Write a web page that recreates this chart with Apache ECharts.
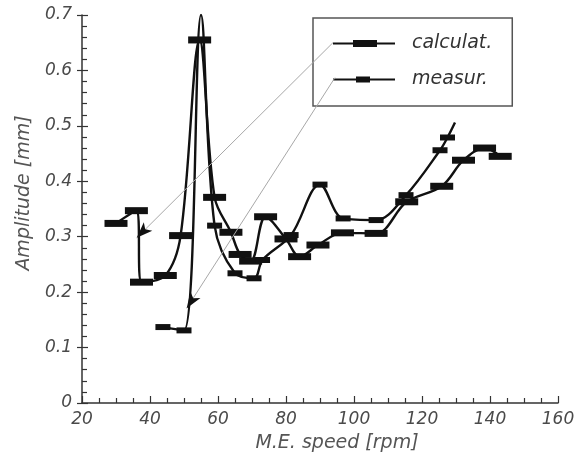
<!DOCTYPE html>
<html>
<head>
<meta charset="utf-8">
<script src="https://cdn.jsdelivr.net/npm/echarts@6/dist/echarts.min.js"></script>
<style>
    html, body { margin: 0; padding: 0; background: #fff; }
    #amplitudeChart { width: 579px; height: 459px; }
</style>
</head>
<body>
<div id="amplitudeChart"></div>
<script type="text/javascript">
    // ---- data ----
    var calcSpeed = [30, 36, 37.5, 44.5, 49, 54.6, 59, 63.8, 66.5, 69.6, 74, 80, 84, 89.4, 96.6, 106.5, 115.5, 125.8, 132.2, 138.4, 143];
    var calcAmp = [0.324, 0.347, 0.218, 0.230, 0.302, 0.655, 0.371, 0.308, 0.268, 0.256, 0.336, 0.296, 0.264, 0.285, 0.307, 0.306, 0.363, 0.391, 0.438, 0.460, 0.445];

    var measSpeed = [43.8, 50, 55, 59, 65, 70.6, 73.1, 81.5, 90, 96.8, 106.5, 115.3, 125.3, 127.5, 129.7];
    var measAmp = [0.137, 0.131, 0.70, 0.320, 0.234, 0.225, 0.258, 0.303, 0.394, 0.333, 0.330, 0.375, 0.456, 0.479, 0.506];
    // points of the measured curve drawn without a marker (apex, end of the line)
    var measUnmarked = [2, 14];

    var xTicks = [20, 40, 60, 80, 100, 120, 140, 160];
    var yTicks = [0, 0.1, 0.2, 0.3, 0.4, 0.5, 0.6, 0.7];

    // leader lines from the legend down to the curves (data coords), arrow tip at the end
    var calcPointer = [[93.8, 0.650], [36.1, 0.298]];
    var measPointer = [[94.4, 0.587], [50.8, 0.171]];

    var chart = echarts.init(document.getElementById('amplitudeChart'));

    function pairs(xs, ys) {
        var out = [];
        for (var i = 0; i < xs.length; i++) {
            out.push([xs[i], ys[i]]);
        }
        return out;
    }

    function $extend(base, extra) {
        var o = {};
        for (var k in base) o[k] = base[k];
        for (var j in extra) o[j] = extra[j];
        return o;
    }

    // gray leader line + black arrow head (arrow symbol is anchored at its tip)
    function pointer(coords, rotate) {
        return {
            markLine: {
                silent: true,
                symbol: ['none', 'none'],
                label: {show: false},
                lineStyle: {color: '#a8a8a8', width: 1, type: 'solid'},
                emphasis: {disabled: true},
                data: [[{coord: coords[0]}, {coord: coords[1]}]]
            },
            markPoint: {
                silent: true,
                symbol: 'arrow',
                symbolSize: [9, 16],
                symbolRotate: rotate,
                itemStyle: {color: '#111'},
                label: {show: false},
                data: [{coord: coords[1]}]
            }
        };
    }

    var measData = pairs(measSpeed, measAmp).map(function (p, i) {
        if (measUnmarked.indexOf(i) >= 0) {
            return {value: p, symbol: 'none'};
        }
        return p;
    });

    var axisColor = '#333';
    var labelFont = {color: '#4a4a4a', fontSize: 17, fontStyle: 'italic', fontFamily: 'DejaVu Sans'};
    var nameFont = {color: '#555', fontSize: 19, fontStyle: 'italic', fontFamily: 'DejaVu Sans'};

    var calcPtr = pointer(calcPointer, 135);
    var measPtr = pointer(measPointer, 147);

    var option = {
        animation: false,
        backgroundColor: '#fff',
        grid: {left: 82, right: 21, top: 15, bottom: 56},
        legend: {
            orient: 'vertical',
            left: 313,
            top: 18,
            padding: [16, 20, 17, 20],
            itemGap: 17,
            itemWidth: 62,
            itemHeight: 7,
            borderColor: '#555',
            borderWidth: 1.5,
            selectedMode: false,
            textStyle: {
                color: '#333', fontSize: 19, fontStyle: 'italic', fontFamily: 'DejaVu Sans',
                padding: [0, 0, 0, 12]
            },
            data: [
                {name: 'calculat.', icon: 'path://M0,2.6H62V4.4H0Z M20,0H44V7H20Z'},
                {name: 'measur.', icon: 'path://M0,2.6H62V4.4H0Z M23,0.5H37V6.5H23Z'}
            ]
        },
        xAxis: {
            type: 'value',
            min: xTicks[0],
            max: xTicks[xTicks.length - 1],
            interval: 20,
            name: 'M.E. speed [rpm]',
            nameLocation: 'middle',
            nameGap: 31,
            nameTextStyle: $extend(nameFont, {padding: [0, 0, 0, 34]}),
            axisLine: {show: true, lineStyle: {color: axisColor, width: 1.5}},
            axisTick: {show: true, inside: true, length: 7, lineStyle: {color: axisColor, width: 1.2}},
            minorTick: {show: true, splitNumber: 4, length: 5, lineStyle: {color: axisColor, width: 1.2}},
            axisLabel: $extend(labelFont, {margin: 8}),
            splitLine: {show: false}
        },
        yAxis: [{
            type: 'value',
            min: yTicks[0],
            max: yTicks[yTicks.length - 1],
            interval: 0.1,
            position: 'left',
            name: 'Amplitude [mm]',
            nameLocation: 'middle',
            nameGap: 48,
            nameTextStyle: $extend(nameFont, {padding: [0, 0, 0, 32]}),
            axisLine: {show: true, lineStyle: {color: axisColor, width: 1.5}},
            axisTick: {show: true, inside: true, length: 6, lineStyle: {color: axisColor, width: 1.2}},
            minorTick: {show: true, splitNumber: 5, length: 5, lineStyle: {color: axisColor, width: 1.2}},
            axisLabel: $extend(labelFont, {margin: 10}),
            splitLine: {show: false}
        }, {
            // outer half of the major ticks
            type: 'value',
            min: yTicks[0],
            max: yTicks[yTicks.length - 1],
            interval: 0.1,
            position: 'left',
            axisLine: {show: false},
            axisTick: {show: true, inside: false, length: 5, lineStyle: {color: axisColor, width: 1.2}},
            axisLabel: {show: false},
            splitLine: {show: false}
        }],
        series: [
            {
                name: 'calculat.',
                type: 'line',
                smooth: 0.35,
                data: pairs(calcSpeed, calcAmp),
                symbol: 'rect',
                symbolSize: [23, 7],
                showAllSymbol: true,
                itemStyle: {color: '#111'},
                lineStyle: {color: '#111', width: 2.4},
                emphasis: {disabled: true},
                z: 3,
                markLine: calcPtr.markLine,
                markPoint: calcPtr.markPoint
            },
            {
                name: 'measur.',
                type: 'line',
                smooth: 0.35,
                data: measData,
                symbol: 'rect',
                symbolSize: [15, 6],
                showAllSymbol: true,
                itemStyle: {color: '#111'},
                lineStyle: {color: '#111', width: 2.4},
                emphasis: {disabled: true},
                z: 3,
                markLine: measPtr.markLine,
                markPoint: measPtr.markPoint
            }
        ]
    };

    chart.setOption(option);
</script>
</body>
</html>
